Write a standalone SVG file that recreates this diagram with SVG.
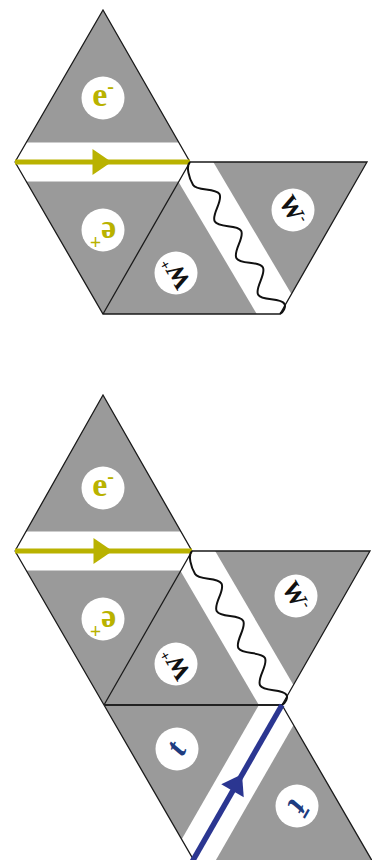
<svg xmlns="http://www.w3.org/2000/svg" xmlns:xlink="http://www.w3.org/1999/xlink" width="372" height="860" viewBox="0 0 372 860">
<style>
.tri{fill:#9a9a9a;stroke:none}
.disc{fill:#ffffff}
.band{stroke:#ffffff;fill:none}
.edge{stroke:#1a1a1a;stroke-width:1.3;fill:none}
.edge2{stroke:#222;stroke-width:2;fill:none}
.lbl{font-family:"Liberation Serif","DejaVu Serif",serif;text-anchor:middle}
.ee{fill:#b9b200;font-size:34px;font-weight:bold}
.ww{fill:#111;font-size:25px;font-weight:bold}
.tt{fill:#1e3c80;font-size:32px;font-weight:bold;font-style:italic}
.sup{font-size:20px}
.supw{font-size:15px}
.yl{stroke:#b9b200;stroke-width:5;fill:none}
.bl{stroke:#2b3691;stroke-width:5.5;fill:none}
.wave{stroke:#111;stroke-width:2;fill:none}
</style>
<defs>
<clipPath id="clipTop"><polygon points="103,10 15,162 103,314 280,314 367,162 190,162"/></clipPath>
<clipPath id="clipBot"><polygon points="103,395 15,551 104,705 194.2,861 372.2,861 282,705 370,551 192,551"/></clipPath>
<path id="ah" d="M-10,-13 L9,0 L-10,13 Z"/>
<path id="wv" d="M0,0 C1.5,6 13.5,9 21.3,9 C29,9 34.8,-9 42.6,-9 S56.1,9 63.9,9 S77.4,-9 85.1,-9 S98.7,9 106.4,9 S120,-9 127.7,-9 S141.3,9 149,9 S162.5,-9 170.2,-9 C173.5,-9 176.6,-4 176.6,0"/>
</defs>

<!-- TOP DIAGRAM -->
<g id="top-eminus">
<polygon class="tri" points="103,10 15,162 190,162"/>
<circle class="disc" cx="103" cy="98" r="21.5"/>
<g transform="translate(103,98)"><text class="lbl ee" x="0" y="8">e<tspan class="sup" dy="-13">-</tspan></text></g>
</g>
<g id="top-eplus">
<polygon class="tri" points="15,162 190,162 103,314"/>
<circle class="disc" cx="103" cy="230" r="21.5"/>
<g transform="translate(103,230) rotate(180)"><text class="lbl ee" x="0" y="8">e<tspan class="sup" dy="-13">+</tspan></text></g>
</g>
<g id="top-wplus">
<polygon class="tri" points="190,162 103,314 280,314"/>
<circle class="disc" cx="176" cy="273" r="21.5"/>
<g transform="translate(176,273) rotate(-120)"><text class="lbl ww" x="0" y="8.5">W<tspan class="supw" dy="-9">+</tspan></text></g>
</g>
<g id="top-wminus">
<polygon class="tri" points="190,162 367,162 280,314"/>
<circle class="disc" cx="293" cy="210" r="21.5"/>
<g transform="translate(293,210) rotate(60)"><text class="lbl ww" x="0" y="8.5">W<tspan class="supw" dy="-9">-</tspan></text></g>
</g>

<!-- BOTTOM DIAGRAM -->
<g id="bot-eminus">
<polygon class="tri" points="103,395 15,551 192,551"/>
<circle class="disc" cx="103" cy="488" r="21.5"/>
<g transform="translate(103,488)"><text class="lbl ee" x="0" y="8">e<tspan class="sup" dy="-13">-</tspan></text></g>
</g>
<g id="bot-eplus">
<polygon class="tri" points="15,551 192,551 104,705"/>
<circle class="disc" cx="103" cy="619" r="21.5"/>
<g transform="translate(103,619) rotate(180)"><text class="lbl ee" x="0" y="8">e<tspan class="sup" dy="-13">+</tspan></text></g>
</g>
<g id="bot-wplus">
<polygon class="tri" points="192,551 104,705 282,705"/>
<circle class="disc" cx="176" cy="664" r="21.5"/>
<g transform="translate(176,664) rotate(-120)"><text class="lbl ww" x="0" y="8.5">W<tspan class="supw" dy="-9">+</tspan></text></g>
</g>
<g id="bot-wminus">
<polygon class="tri" points="192,551 370,551 282,705"/>
<circle class="disc" cx="296" cy="596" r="21.5"/>
<g transform="translate(296,596) rotate(60)"><text class="lbl ww" x="0" y="8.5">W<tspan class="supw" dy="-9">-</tspan></text></g>
</g>
<g id="bot-t">
<polygon class="tri" points="104,705 282,705 194.2,861"/>
<circle class="disc" cx="177" cy="749" r="21.5"/>
<g transform="translate(177,749) rotate(-60)"><text class="lbl tt" x="0" y="9">t</text></g>
</g>
<g id="bot-tbar">
<polygon class="tri" points="282,705 194.2,861 372.2,861"/>
<circle class="disc" cx="297" cy="806" r="21.5"/>
<g transform="translate(297,806) rotate(120)"><text class="lbl tt" x="0" y="9">t̄</text></g>
</g>

<!-- white bands -->
<g id="bands" class="band">
<g clip-path="url(#clipTop)">
<line x1="15" y1="162" x2="190" y2="162" stroke-width="39"/>
<line x1="190" y1="162" x2="280" y2="314" stroke-width="40"/>
</g>
<g clip-path="url(#clipBot)">
<line x1="15" y1="551" x2="192" y2="551" stroke-width="39"/>
<line x1="192" y1="551" x2="282" y2="705" stroke-width="40"/>
<line x1="190" y1="865" x2="282" y2="705" stroke-width="40"/>
</g>
</g>

<!-- outlines -->
<g id="outlines">
<path class="edge" d="M15,162 L103,10 L190,162 L103,314 M15,162 L103,314 L280,314 L367,162 L190,162"/>
<path class="edge" d="M15,551 L103,395 L192,551 L104,705 M15,551 L104,705 L194.2,861 M282,705 L370,551 L192,551 M282,705 L372.2,861"/>
<path class="edge2" d="M104,705 L282,705"/>
</g>

<!-- connectors -->
<g id="connectors">
<line class="yl" x1="15" y1="162" x2="190" y2="162"/>
<use xlink:href="#ah" transform="translate(102.5,162)" fill="#b9b200"/>
<use xlink:href="#wv" class="wave" transform="translate(190,162) rotate(59.37)"/>
<line class="yl" x1="15" y1="551" x2="192" y2="551"/>
<use xlink:href="#ah" transform="translate(103.5,551)" fill="#b9b200"/>
<use xlink:href="#wv" class="wave" transform="translate(192,551) rotate(59.7) scale(1.01,1)"/>
<line class="bl" x1="192" y1="862" x2="282" y2="705"/>
<use xlink:href="#ah" transform="translate(237.5,782) rotate(-60)" fill="#2b3691"/>
</g>
</svg>
